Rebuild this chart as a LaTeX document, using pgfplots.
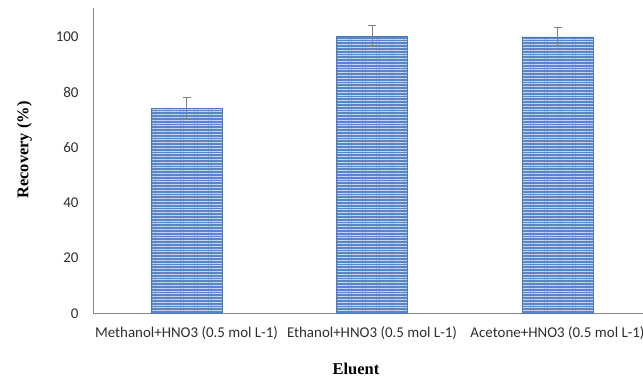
\documentclass[border=0pt]{standalone}
\usepackage{pgfplots}
\usepackage{pgfplotstable}
\pgfplotsset{compat=1.18}
\usepackage{fontspec}
\setmainfont{Liberation Serif}
\newfontfamily\carlito{Carlito}
\usetikzlibrary{patterns.meta}
\definecolor{barfill}{RGB}{88,134,200}
\definecolor{barline}{RGB}{196,213,238}
\definecolor{axgray}{RGB}{134,134,134}
\definecolor{errgray}{RGB}{128,128,128}
\pgfplotstableread{
x y e
0 74.1 3.8
1 100.2 3.8
2 100.0 3.2
}\datatable
\begin{document}
\begin{tikzpicture}
\begin{axis}[
  at={(93.75bp,64.5bp)}, anchor=south west,
  scale only axis, width=556.5bp, height=305.2bp,
  xmin=-0.5, xmax=2.5, ymin=0, ymax=110.3,
  axis lines=left,
  axis line style={draw=axgray, line width=0.75bp, -},
  ybar, bar width=71bp, bar shift=0pt,
  ytick={0,20,...,100}, xtick=data,
  xticklabels={Methanol+HNO3 (0.5 mol L-1), Ethanol+HNO3 (0.5 mol L-1), Acetone+HNO3 (0.5 mol L-1)},
  major tick length=0pt, tick style={draw=none},
  /pgf/number format/assume math mode=true,
  ticklabel style={font=\carlito\fontsize{15}{18}\selectfont, text=black!82},
  yticklabel style={inner sep=0pt, xshift=-15bp},
  xticklabel style={inner sep=0pt, anchor=north, yshift=-12.5bp},
  ylabel={Recovery (\%)},
  xlabel={Eluent},
  ylabel style={at={(rel axis cs:-0.1244,0.5357)}, anchor=center, rotate=0, font=\bfseries\fontsize{16.5}{19}\selectfont},
  xlabel style={at={(rel axis cs:0.4712,-0.1818)}, anchor=center, font=\bfseries\fontsize{16.5}{19}\selectfont},
  clip=false,
]
\addplot+[
  draw=barfill!90!black, line width=0.4bp,
  fill=barfill,
  postaction={pattern={Lines[angle=0, distance=2.8bp, line width=1bp]}, pattern color=barline},
  error bars/.cd, y dir=both, y explicit,
  error bar style={draw=errgray, line width=1bp},
  error mark options={rotate=90, mark size=4bp, line width=1bp, draw=errgray},
] table[x=x, y=y, y error=e] {\datatable};
\end{axis}
\pgfresetboundingbox
\path (0,0) rectangle (643bp,378bp);
\end{tikzpicture}
\end{document}
